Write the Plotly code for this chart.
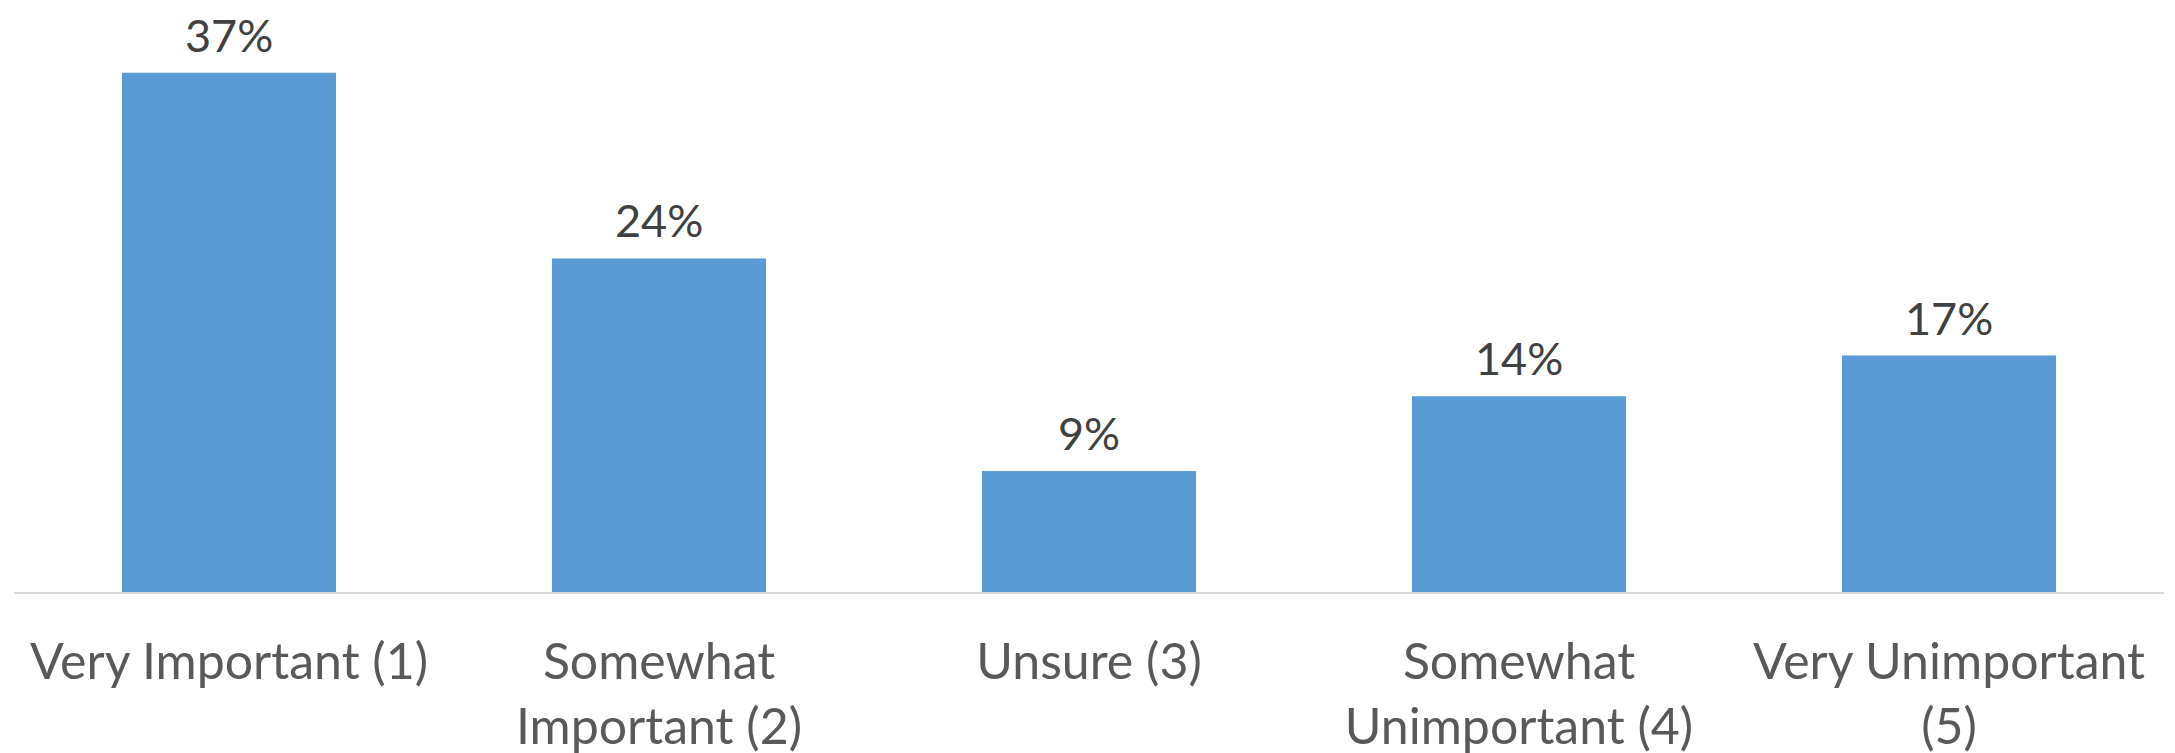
import plotly.graph_objects as go

categories = ["Very Important (1)", "Somewhat Important (2)", "Unsure (3)",
              "Somewhat Unimportant (4)", "Very Unimportant (5)"]
tick_labels = ["Very Important (1)", "Somewhat<br>Important (2)", "Unsure (3)",
               "Somewhat<br>Unimportant (4)", "Very Unimportant<br>(5)"]
values = [36.9, 23.7, 8.6, 13.9, 16.8]
value_labels = ["37%", "24%", "9%", "14%", "17%"]

fig = go.Figure(go.Bar(
    x=categories,
    y=values,
    marker=dict(color="#5B9BD5", line=dict(width=0)),
    cliponaxis=False,
    hoverinfo="skip",
))

for c, v, t in zip(categories, values, value_labels):
    fig.add_annotation(
        x=c, y=v, text=t, showarrow=False,
        yanchor="bottom", xanchor="center", yshift=10, borderpad=0,
        font=dict(family="Lato", size=45, color="#404040"),
    )

fig.update_layout(
    width=2175, height=753,
    margin=dict(l=6, r=19, t=21, b=169),
    paper_bgcolor="white", plot_bgcolor="white",
    bargap=0.502,
    showlegend=False,
    font=dict(family="Lato", color="#595959"),
)
fig.update_xaxes(
    tickmode="array", tickvals=categories, ticktext=tick_labels,
    tickfont=dict(family="Lato", size=50, color="#595959"),
    showline=True, linecolor="#D9D9D9", linewidth=2,
    showgrid=False, ticks="", ticklabelstandoff=25,
    automargin=False,
)
fig.update_yaxes(range=[0, 40], visible=False, showgrid=False, zeroline=False)

fig.write_html("out.html")
